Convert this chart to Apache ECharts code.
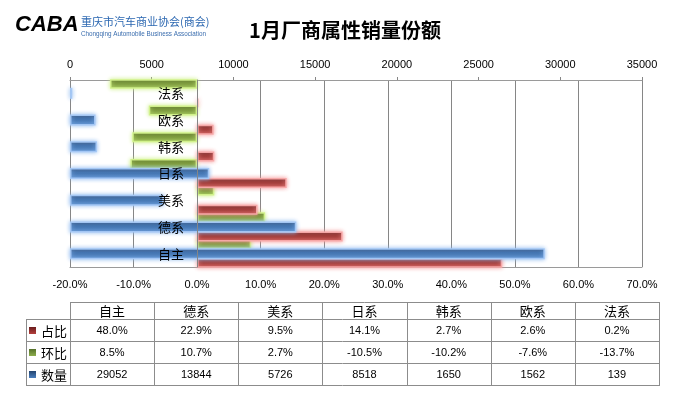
<!DOCTYPE html>
<html>
<head>
<meta charset="utf-8">
<script src="https://cdn.jsdelivr.net/npm/echarts@6/dist/echarts.min.js"></script>
<style>
html,body{margin:0;padding:0;background:#fff;}
#chart{width:680px;height:405px;}
</style>
</head>
<body>
<div id="chart"></div>
<script>
// ---- data ----
const categories = ['自主', '德系', '美系', '日系', '韩系', '欧系', '法系'];
const shareValues = [48.0, 22.9, 9.5, 14.1, 2.7, 2.6, 0.2];      // 占比 (%)
const momValues = [8.5, 10.7, 2.7, -10.5, -10.2, -7.6, -13.7];    // 环比 (%)
const volumeValues = [29052, 13844, 5726, 8518, 1650, 1562, 139]; // 数量
const seriesNames = ['占比', '环比', '数量'];
const titleText = '1月厂商属性销量份额';
const volumeAxis = { min: 0, max: 35000, interval: 5000 };
const pctAxis = { min: -20, max: 70, interval: 10 };

// ---- styling ----
const G = echarts.graphic;
function vgrad(a, b, c) {
  return new G.LinearGradient(0, 0, 0, 1, [
    { offset: 0, color: a }, { offset: 0.4, color: b }, { offset: 1, color: c }
  ]);
}
const redFill = () => vgrad('#5E1818', '#973330', '#C4524F');
const greenFill = () => vgrad('#435719', '#718E34', '#98B955');
const blueFill = () => vgrad('#23406A', '#3F70AC', '#5A8ECD');

const chart = echarts.init(document.getElementById('chart'), null, { renderer: 'canvas' });

// grid geometry (layout only)
const gridLeft = 70, gridRight = 642, gridTop = 80, gridHeight = 187;
const zeroOffset = -Math.round((0 - pctAxis.min) / (pctAxis.max - pctAxis.min) * (gridRight - gridLeft));

// ---- table (built from data arrays) ----
const tblL = 26, tblH = 70, tblR = 659;
const colW = (tblR - tblH) / categories.length;
const rows = [302, 319, 341, 363, 385];
const lineColor = '#8C8C8C';
const graphics = [];
function hline(x1, x2, y) {
  graphics.push({ type: 'line', shape: { x1: x1, y1: y + 0.5, x2: x2, y2: y + 0.5 }, style: { stroke: lineColor, lineWidth: 1 }, silent: true });
}
function vline(x, y1, y2) {
  x = Math.round(x);
  graphics.push({ type: 'line', shape: { x1: x + 0.5, y1: y1, x2: x + 0.5, y2: y2 + 1 }, style: { stroke: lineColor, lineWidth: 1 }, silent: true });
}
hline(tblH, tblR, rows[0]);
for (let i = 1; i < rows.length; i++) hline(tblL, tblR, rows[i]);
vline(tblL, rows[1], rows[4]);
for (let i = 0; i <= categories.length; i++) vline(tblH + i * colW, rows[0], rows[4]);
const cjk = '"Noto Sans CJK SC", sans-serif';
const latin = '"Liberation Sans", Arial, sans-serif';
categories.forEach((c, i) => {
  graphics.push({ type: 'text', x: tblH + (i + 0.5) * colW, y: (rows[0] + rows[1]) / 2 + 1,
    style: { text: c, font: '13px ' + cjk, fill: '#000', textAlign: 'center', textVerticalAlign: 'middle' }, silent: true });
});
const rowData = [
  shareValues.map(v => v.toFixed(1) + '%'),
  momValues.map(v => v.toFixed(1) + '%'),
  volumeValues.map(v => String(v))
];
const keyFills = [
  new G.LinearGradient(0, 0, 0, 1, [{ offset: 0, color: '#6A1C1C' }, { offset: 1, color: '#B4403D' }]),
  new G.LinearGradient(0, 0, 0, 1, [{ offset: 0, color: '#55702A' }, { offset: 1, color: '#8DAE4C' }]),
  new G.LinearGradient(0, 0, 0, 1, [{ offset: 0, color: '#23446F' }, { offset: 1, color: '#4A7EBD' }])
];
rowData.forEach((vals, r) => {
  const cy = (rows[r + 1] + rows[r + 2]) / 2;
  graphics.push({ type: 'rect', shape: { x: 29, y: Math.round(cy) - 3, width: 7, height: 7 }, style: { fill: keyFills[r] }, silent: true });
  graphics.push({ type: 'text', x: 41, y: cy + 1,
    style: { text: seriesNames[r], font: '13px ' + cjk, fill: '#000', textAlign: 'left', textVerticalAlign: 'middle' }, silent: true });
  vals.forEach((v, i) => {
    graphics.push({ type: 'text', x: tblH + (i + 0.5) * colW, y: cy + 1,
      style: { text: v, font: '11px ' + latin, fill: '#000', textAlign: 'center', textVerticalAlign: 'middle' }, silent: true });
  });
});

// ---- logo ----
graphics.push({ type: 'text', x: 15, y: 25,
  style: { text: 'CABA', font: 'italic 900 22px "Liberation Sans", Arial, sans-serif',
    fill: new G.LinearGradient(0, 0, 1, 1, [{ offset: 0, color: '#2AA8EA' }, { offset: 1, color: '#1B5DB0' }]),
    textAlign: 'left', textVerticalAlign: 'middle' }, silent: true });
graphics.push({ type: 'text', x: 81, y: 22,
  style: { text: '重庆市汽车商业协会(商会)', font: '11px ' + cjk, fill: '#2B67B1', textAlign: 'left', textVerticalAlign: 'middle' }, silent: true });
graphics.push({ type: 'text', x: 81, y: 34,
  style: { text: 'Chongqing Automobile Business Association', font: '6.3px ' + latin, fill: '#3A6DAE', textAlign: 'left', textVerticalAlign: 'middle' }, silent: true });

const option = {
  backgroundColor: '#ffffff',
  animation: false,
  title: {
    text: titleText, left: 340, top: 15, textAlign: 'center',
    textStyle: { fontFamily: cjk, fontSize: 20, fontWeight: 'bold', color: '#000' }
  },
  grid: { left: gridLeft, right: 680 - gridRight, top: gridTop, height: gridHeight, containLabel: false },
  xAxis: [
    {
      type: 'value', position: 'top', min: volumeAxis.min, max: volumeAxis.max, interval: volumeAxis.interval,
      axisLine: { show: true, onZero: false, lineStyle: { color: '#9A9A9A' } },
      axisTick: { show: true, length: 3, lineStyle: { color: '#868686' } },
      axisLabel: { color: '#000', fontSize: 11, fontFamily: latin, margin: 10, formatter: v => String(v) },
      splitLine: { show: false }
    },
    {
      type: 'value', position: 'bottom', min: pctAxis.min, max: pctAxis.max, interval: pctAxis.interval,
      axisLine: { show: true, onZero: false, lineStyle: { color: '#9A9A9A' } },
      axisTick: { show: false },
      axisLabel: { color: '#000', fontSize: 11, fontFamily: latin, margin: 12, formatter: v => v.toFixed(1) + '%' },
      splitLine: { show: true, lineStyle: { color: '#868686', width: 1 } }
    }
  ],
  yAxis: [
    {
      type: 'category', data: categories, position: 'left', offset: zeroOffset,
      axisLine: { show: true, onZero: false, lineStyle: { color: '#868686' } },
      axisTick: { show: false },
      axisLabel: { color: '#000', fontSize: 13, fontFamily: cjk, margin: 13 },
      z: 10
    },
    {
      type: 'category', data: categories, show: false
    }
  ],
  series: [
    {
      name: seriesNames[1], type: 'bar', xAxisIndex: 1, yAxisIndex: 0, data: momValues,
      barWidth: 10, barGap: '92%',
      itemStyle: { color: greenFill(), borderColor: 'rgba(210,242,140,0.95)', borderWidth: 1.5, shadowBlur: 4, shadowColor: 'rgba(205,240,130,1)' }, z: 2
    },
    {
      name: seriesNames[0], type: 'bar', xAxisIndex: 1, yAxisIndex: 0, data: shareValues,
      barWidth: 10, barGap: '92%',
      itemStyle: { color: redFill(), borderColor: 'rgba(248,170,170,0.95)', borderWidth: 1.5, shadowBlur: 4, shadowColor: 'rgba(245,150,150,1)' }, z: 2
    },
    {
      name: seriesNames[2], type: 'bar', xAxisIndex: 0, yAxisIndex: 1, data: volumeValues,
      barWidth: 11,
      itemStyle: { color: blueFill(), borderColor: 'rgba(165,200,245,0.95)', borderWidth: 1.5, shadowBlur: 4, shadowColor: 'rgba(140,185,240,1)' }, z: 3
    }
  ],
  graphic: { elements: graphics }
};
chart.setOption(option);
</script>
</body>
</html>
